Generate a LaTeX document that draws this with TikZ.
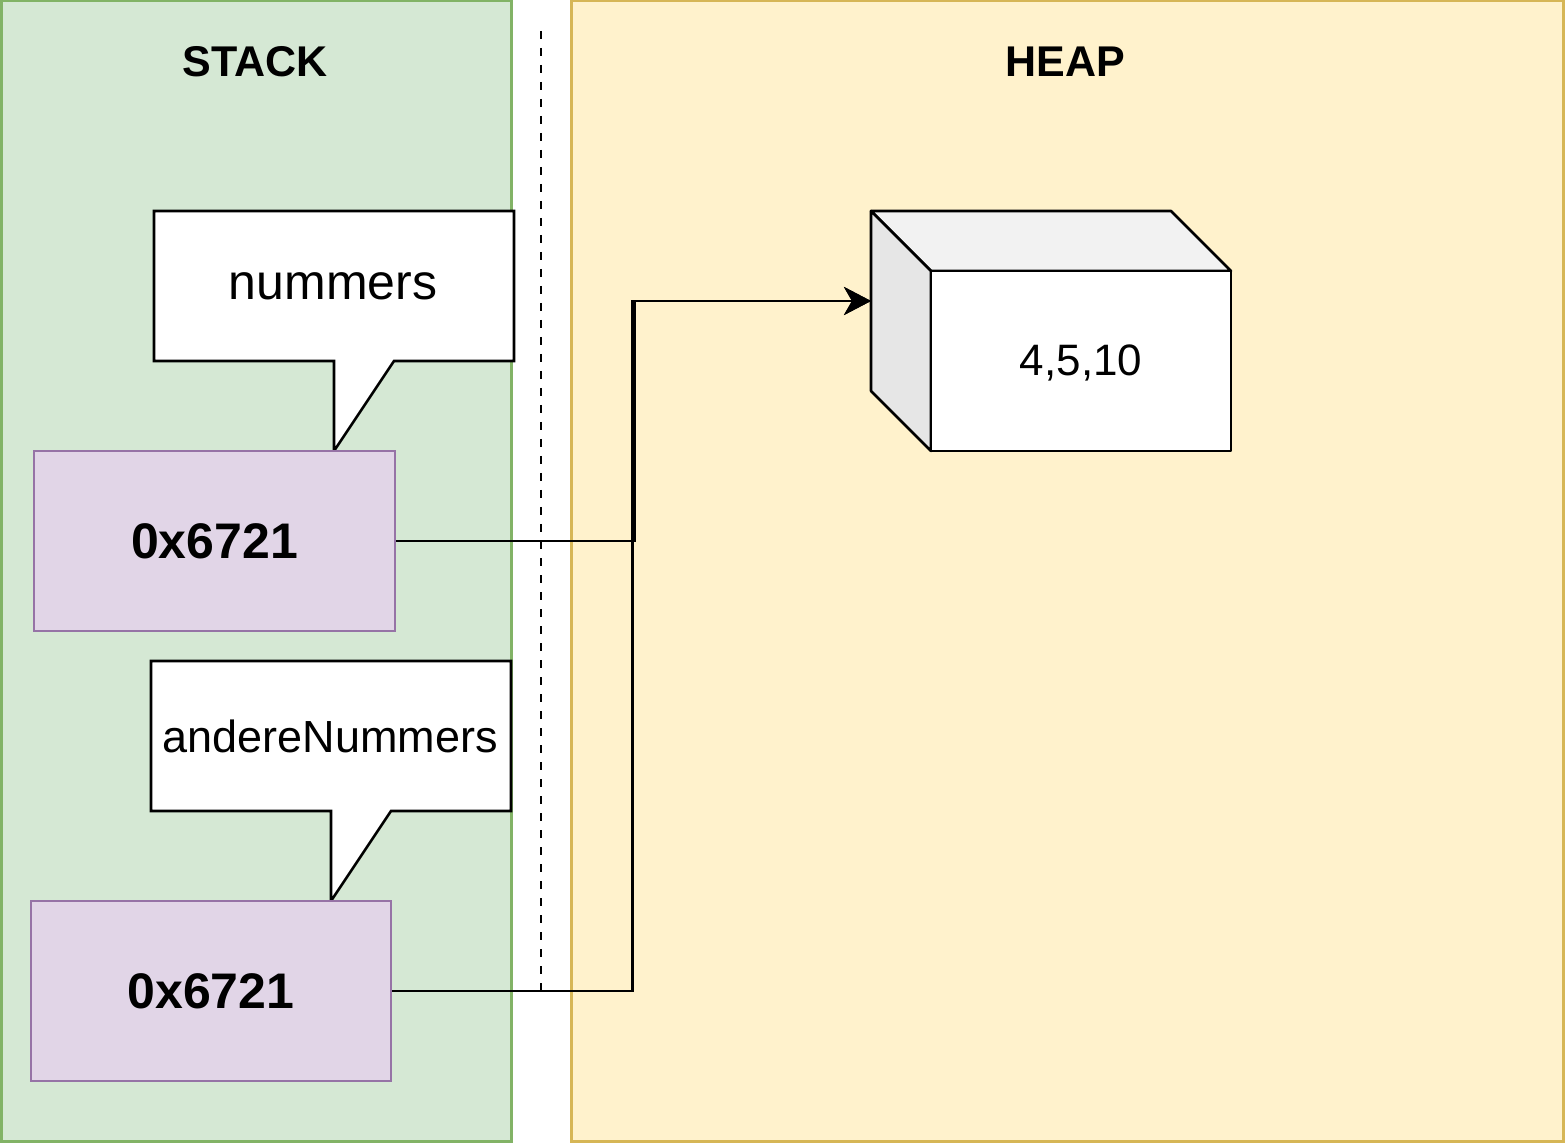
\documentclass[tikz,border=0pt]{standalone}
\usepackage{fontspec}
\setmainfont{Liberation Sans}
\usetikzlibrary{arrows.meta}
\definecolor{stackfill}{HTML}{D5E8D4}
\definecolor{stackline}{HTML}{82B366}
\definecolor{heapfill}{HTML}{FFF2CC}
\definecolor{heapline}{HTML}{D6B656}
\definecolor{varfill}{HTML}{E1D5E7}
\definecolor{varline}{HTML}{9673A6}
\definecolor{cubetop}{HTML}{F2F2F2}
\definecolor{cubeside}{HTML}{E6E6E6}
\tikzset{
  region/.style={line width=1.5pt},
  title/.style={font=\fontsize{21.5}{24}\selectfont\bfseries, inner sep=0pt},
  callout/.style={draw=black, fill=white, line width=1.3pt, line join=miter},
  calloutlabel/.style={inner sep=0pt},
  varbox/.style={draw=varline, fill=varfill, line width=1.3pt, rectangle,
    minimum height=90pt, inner sep=0pt, font=\fontsize{25}{28}\selectfont\bfseries},
  cubeline/.style={draw=black, line width=1.3pt, line join=round},
  link/.style={draw=black, line width=1.4pt, -{Stealth[length=13.5pt, width=14pt, inset=4pt]}},
}
\begin{document}
\begin{tikzpicture}[x=0.5pt, y=-0.5pt]
\useasboundingbox (0,0) rectangle (1566,1143);
% backgrounds
\path[region, draw=stackline, fill=stackfill] (1,1) rectangle (511,1141);
\path[region, draw=heapline, fill=heapfill] (571,1) rectangle (1563,1141);
\node[title] (stacktitle) at (255,62) {STACK};
\node[title] (heaptitle) at (1065,62) {HEAP};
% separator
\draw[line width=1.3pt, dash pattern=on 4pt off 4.5pt] (541,31) -- (541,991);
% callouts
\path[callout] (154,211) -- (514,211) -- (514,361) -- (394,361) -- (334,451) -- (334,361) -- (154,361) -- cycle;
\node[calloutlabel, font=\fontsize{25}{28}\selectfont] (lbl1) at (333,286) {nummers};
\path[callout] (151,661) -- (511,661) -- (511,811) -- (391,811) -- (331,901) -- (331,811) -- (151,811) -- cycle;
\node[calloutlabel, font=\fontsize{22.5}{26}\selectfont] (lbl2) at (330,736) {andereNummers};
% variable boxes
\node[varbox, minimum width=180.5pt] (b1) at (214.5,541) {0x6721};
\node[varbox, minimum width=180pt] (b2) at (211,991) {0x6721};
% cube
\path[cubeline, fill=cubetop] (871,211) -- (1171,211) -- (1231,271) -- (931,271) -- cycle;
\path[cubeline, fill=cubeside] (871,211) -- (931,271) -- (931,451) -- (871,391) -- cycle;
\path[cubeline, fill=white] (931,271) rectangle (1231,451);
\node[inner sep=0pt, font=\fontsize{22}{26}\selectfont] (cube) at (1081,363) {4,5,10};
\coordinate (cubein) at (871,301);
% connectors
\draw[link] (b2.east) -- ++(240,0) |- (cubein);
\draw[link] (b1.east) -- ++(238,0) |- (cubein);
\end{tikzpicture}
\end{document}
